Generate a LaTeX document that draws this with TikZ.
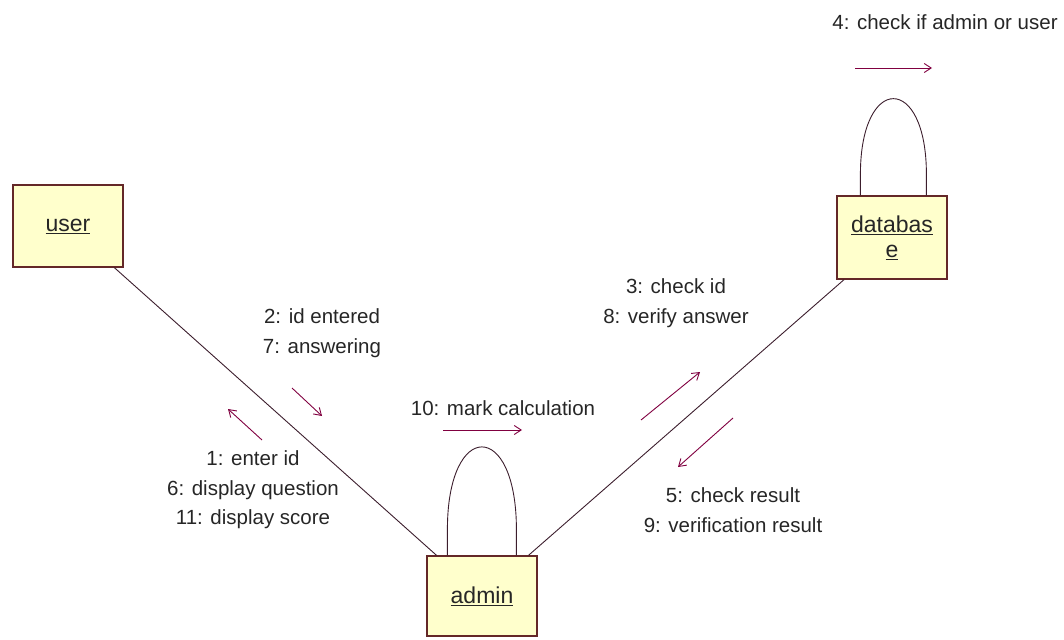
\documentclass[tikz,border=0pt]{standalone}
\usepackage{fontspec}
\setmainfont{Liberation Sans}
\usetikzlibrary{arrows.meta}
\definecolor{boxfill}{RGB}{255,255,204}
\definecolor{boxline}{RGB}{100,40,40}
\definecolor{linkline}{RGB}{60,30,45}
\definecolor{msgline}{RGB}{128,0,64}
\begin{document}
\begin{tikzpicture}[x=1pt, y=-1pt,
    obj/.style={draw=boxline, fill=boxfill, line width=1.2pt, minimum width=110pt, align=center,
                font=\fontsize{23}{27}\selectfont, text=black!85},
    link/.style={draw=linkline, line width=0.9pt},
    msg/.style={draw=msgline, line width=0.9pt, -{Straight Barb[length=7pt, width=9pt]}},
    lbl/.style={align=center, font=\fontsize{20.5}{29.5}\selectfont, text=black!85}]
    \useasboundingbox (0,0) rectangle (1064,639);

    % 对象
    \node[obj, minimum height=82pt] (user) at (68,226) {\underline{user}};
    \node[obj, minimum height=80pt] (admin) at (482,596) {\underline{admin}};
    \node[obj, minimum height=83pt] (database) at (892,237.5) {\underline{databas}\\[-2pt]\underline{e}};

    % 链接
    \draw[link] (user) -- (admin);
    \draw[link] (admin) -- (database);
    \draw[link] ([xshift=21pt]admin.north west) -- ++(0,-26) .. controls +(0,-110) and +(0,-110) .. ++(69,0) -- ++(0,26);
    \draw[link] ([xshift=24pt]database.north west) -- ++(0,-21) .. controls +(0,-101) and +(0,-101) .. ++(66,0) -- ++(0,21);

    % 消息
    \draw[msg] (262,440) -- (228,409);
    \draw[msg] (292,388) -- (322,416);
    \draw[msg] (443,430) -- (522,430);
    \draw[msg] (641,420) -- (700,372);
    \draw[msg] (733,418) -- (678,467);
    \draw[msg] (855,68) -- (932,68);

    \node[lbl] (m4) at (945,22) {4: check if admin or user};
    \node[lbl] (m27) at (322,333) {2: id entered\\7: answering};
    \node[lbl] (m1611) at (253,490) {1: enter id\\6: display question\\11: display score};
    \node[lbl] (m10) at (503,408) {10: mark calculation};
    \node[lbl] (m38) at (676,303) {3: check id\\8: verify answer};
    \node[lbl] (m59) at (733,510) {5: check result\\9: verification result};
\end{tikzpicture}
\end{document}
